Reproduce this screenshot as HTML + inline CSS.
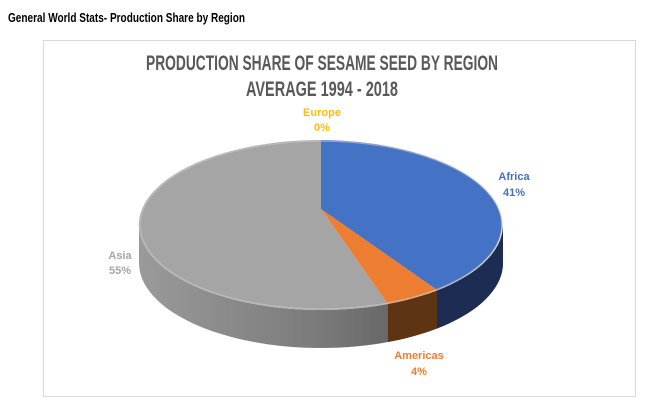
<!DOCTYPE html>
<html><head><meta charset="utf-8"><style>
html,body{margin:0;padding:0;background:#fff;}
svg{display:block;font-family:"Liberation Sans",sans-serif;}
</style></head><body>
<svg width="655" height="415" viewBox="0 0 655 415" xmlns="http://www.w3.org/2000/svg">
<defs>
<linearGradient id="gs" x1="0" x2="1" y1="0" y2="0">
<stop offset="0" stop-color="#9a9a9a"/><stop offset="0.5" stop-color="#7a7a7a"/><stop offset="1" stop-color="#4a4a4a"/>
</linearGradient>
<clipPath id="cAm"><rect x="388" y="0" width="49" height="415"/></clipPath>
<clipPath id="cAf"><rect x="437" y="0" width="100" height="415"/></clipPath>
</defs>
<text x="8" y="22" font-size="13" font-weight="bold" fill="#000" textLength="237" lengthAdjust="spacingAndGlyphs">General World Stats- Production Share by Region</text>
<rect x="43.5" y="40.5" width="592" height="356" fill="#fff" stroke="#d9d9d9"/>
<text x="322" y="70" font-size="21" font-weight="bold" fill="#595959" text-anchor="middle" textLength="352" lengthAdjust="spacingAndGlyphs">PRODUCTION SHARE OF SESAME SEED BY REGION</text>
<text x="322" y="96" font-size="21" font-weight="bold" fill="#595959" text-anchor="middle" textLength="152" lengthAdjust="spacingAndGlyphs">AVERAGE 1994 - 2018</text>
<path d="M139,225 A182,85 0 0 0 503,225 L503,263 A182,85 0 0 1 139,263 Z" fill="url(#gs)"/>
<path d="M139,225 A182,85 0 0 0 503,225 L503,263 A182,85 0 0 1 139,263 Z" fill="#5e3413" clip-path="url(#cAm)"/>
<path d="M139,225 A182,85 0 0 0 503,225 L503,263 A182,85 0 0 1 139,263 Z" fill="#1c2c52" clip-path="url(#cAf)"/>
<path d="M321,209 L321,140 A182,85 0 1 0 388,304 Z" fill="#a5a5a5"/>
<path d="M321,209 L321,140 A182,85 0 0 1 437,290 Z" fill="#4472c4"/>
<path d="M321,209 L437,290 A182,85 0 0 1 388,304 Z" fill="#ed7d31"/>
<ellipse cx="321" cy="225" rx="181" ry="84" fill="none" stroke="#c8c8c8" stroke-width="1.5" opacity="0.6"/>
<g font-size="11" font-weight="bold" text-anchor="middle">
<text x="322" y="116" fill="#ffc000">Europe</text><text x="322" y="131" fill="#ffc000">0%</text>
<text x="514" y="180" fill="#4472c4">Africa</text><text x="514" y="196" fill="#4472c4">41%</text>
<text x="120" y="259" fill="#a5a5a5">Asia</text><text x="120" y="274" fill="#a5a5a5">55%</text>
<text x="419" y="359" fill="#ed7d31">Americas</text><text x="419" y="375" fill="#ed7d31">4%</text>
</g>
</svg>
</body></html>
